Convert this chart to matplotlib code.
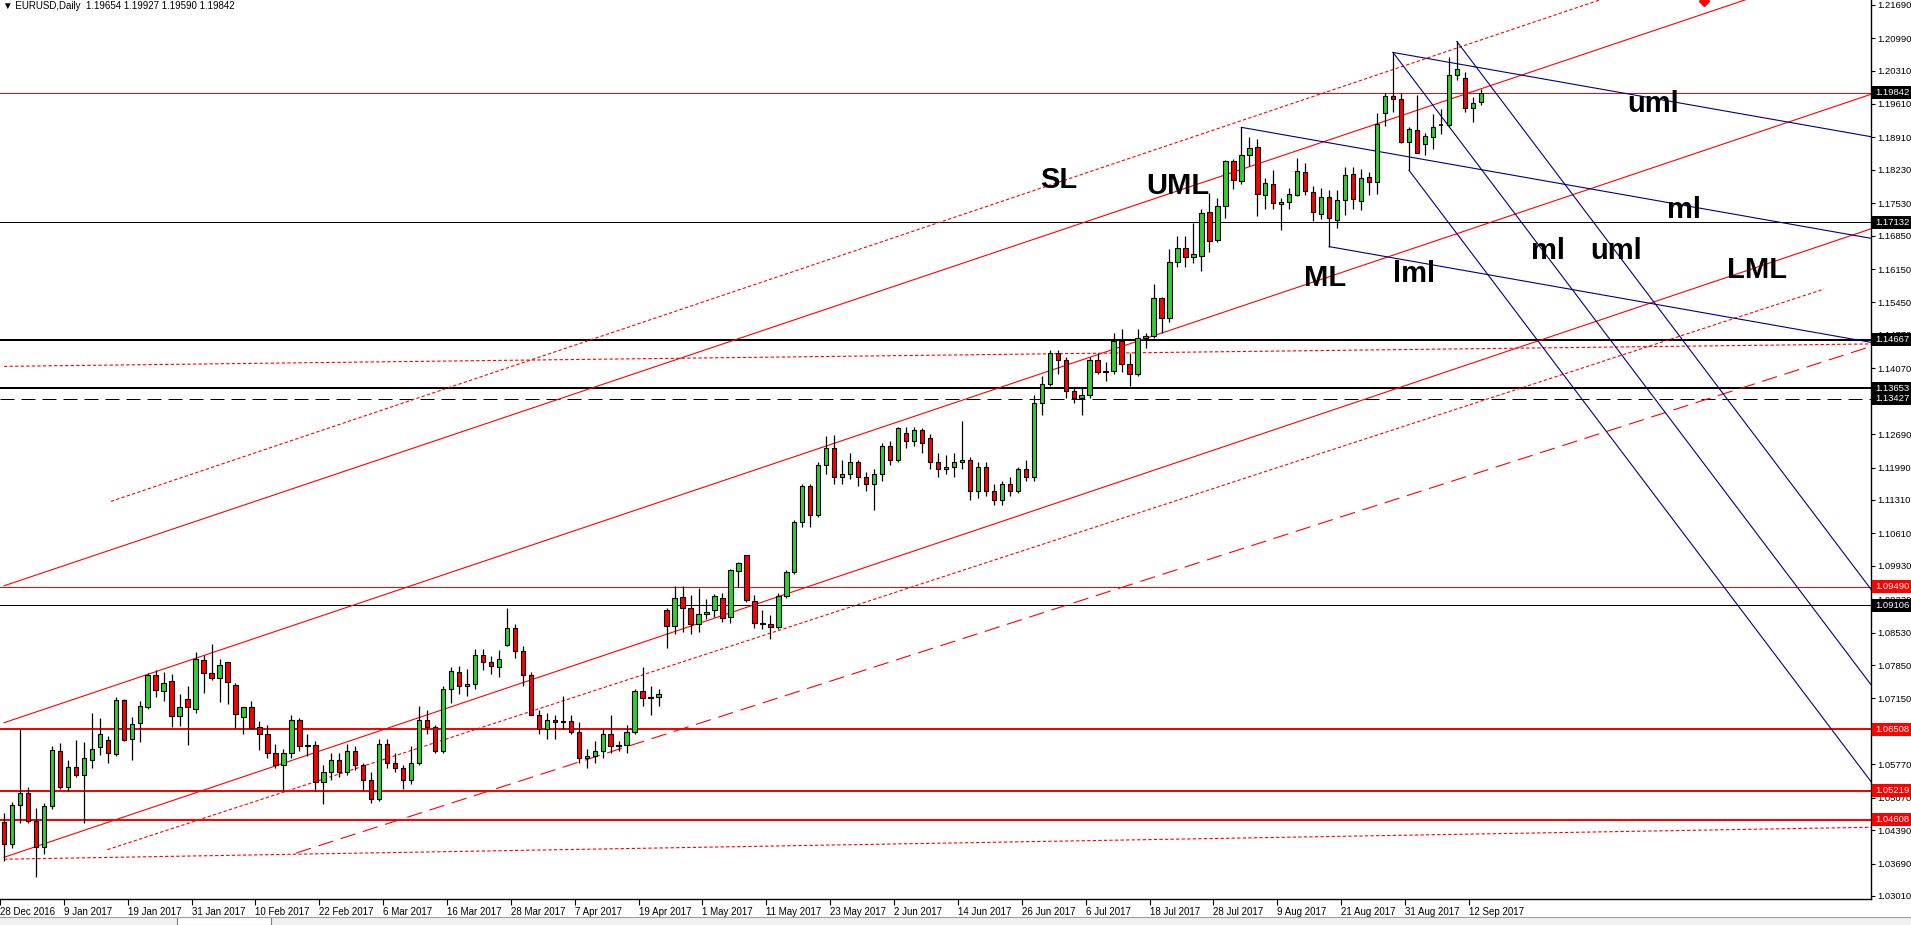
import matplotlib
matplotlib.use("Agg")
import matplotlib.pyplot as plt
import matplotlib.transforms as mtransforms
from matplotlib.patches import Rectangle

# daily EURUSD candles, 28 Dec 2016 .. 13 Sep 2017 (bar index = position)
opens = [1.0456, 1.0410, 1.0491, 1.0517, 1.0459, 1.0404, 1.0489, 1.0605, 1.0530, 1.0572,
         1.0555, 1.0585, 1.0613, 1.0628, 1.0599, 1.0711, 1.0629, 1.0663, 1.0698, 1.0764,
         1.0730, 1.0751, 1.0678, 1.0713, 1.0693, 1.0796, 1.0768, 1.0757, 1.0791, 1.0743,
         1.0677, 1.0696, 1.0656, 1.0640, 1.0600, 1.0575, 1.0600, 1.0670, 1.0615, 1.0618,
         1.0540, 1.0560, 1.0585, 1.0560, 1.0605, 1.0575, 1.0545, 1.0505, 1.0620, 1.0580,
         1.0570, 1.0545, 1.0580, 1.0670, 1.0655, 1.0605, 1.0735, 1.0770, 1.0740, 1.0745,
         1.0806, 1.0792, 1.0780, 1.0827, 1.0862, 1.0815, 1.0765, 1.0680, 1.0650, 1.0670,
         1.0665, 1.0668, 1.0645, 1.0590, 1.0595, 1.0605, 1.0640, 1.0615, 1.0618, 1.0645,
         1.0730, 1.0715, 1.0718, 1.0900, 1.0866, 1.0928, 1.0904, 1.0870, 1.0893, 1.0900,
         1.0926, 1.0885, 1.0983, 1.1015, 1.0920, 1.0874, 1.0870, 1.0865, 1.0930, 1.0980,
         1.1085, 1.1160, 1.1100, 1.1205, 1.1240, 1.1180, 1.1185, 1.1210, 1.1180, 1.1165,
         1.1185, 1.1245, 1.1215, 1.1272, 1.1255, 1.1278, 1.1260, 1.1210, 1.1195, 1.1200,
         1.1210, 1.1215, 1.1150, 1.1200, 1.1150, 1.1130, 1.1165, 1.1150, 1.1195, 1.1180,
         1.1335, 1.1375, 1.1440, 1.1425, 1.1360, 1.1345, 1.1350, 1.1425, 1.1400, 1.1402,
         1.1465, 1.1415, 1.1395, 1.1470, 1.1475, 1.1554, 1.1513, 1.1629, 1.1660, 1.1640,
         1.1642, 1.1734, 1.1675, 1.1748, 1.1842, 1.1800, 1.1853, 1.1870, 1.1771, 1.1793,
         1.1751, 1.1756, 1.1770, 1.1818, 1.1776, 1.1731, 1.1766, 1.1718, 1.1759, 1.1814,
         1.1757, 1.1808, 1.1798, 1.1943, 1.1978, 1.1971, 1.1882, 1.1906, 1.1878, 1.1891,
         1.1917, 1.1916, 1.2022, 1.2015, 1.1952, 1.19654]
highs = [1.0475, 1.0497, 1.0651, 1.0530, 1.0485, 1.0496, 1.0615, 1.0621, 1.0585, 1.0628,
         1.0623, 1.0684, 1.0673, 1.0636, 1.0719, 1.0713, 1.0676, 1.0709, 1.0768, 1.0774,
         1.0771, 1.0766, 1.0724, 1.0741, 1.0813, 1.0805, 1.0829, 1.0797, 1.0791, 1.0747,
         1.0698, 1.0709, 1.0668, 1.0660, 1.0620, 1.0610, 1.0680, 1.0675, 1.0640, 1.0625,
         1.0575, 1.0600, 1.0600, 1.0620, 1.0615, 1.0580, 1.0560, 1.0630, 1.0630, 1.0600,
         1.0575, 1.0615, 1.0700, 1.0690, 1.0660, 1.0740, 1.0780, 1.0783, 1.0777, 1.0819,
         1.0819, 1.0803, 1.0816, 1.0904, 1.0870, 1.0825, 1.0770, 1.0690, 1.0685, 1.0680,
         1.0720, 1.0680, 1.0665, 1.0610, 1.0625, 1.0650, 1.0680, 1.0625, 1.0660, 1.0735,
         1.0780, 1.0740, 1.0735, 1.0904, 1.0950, 1.0950, 1.0931, 1.0946, 1.0923, 1.0933,
         1.0937, 1.0987, 1.1000, 1.1015, 1.0932, 1.0900, 1.0890, 1.0935, 1.0985, 1.1090,
         1.1165, 1.1165, 1.1210, 1.1264, 1.1267, 1.1215, 1.1230, 1.1215, 1.1190, 1.1195,
         1.1250, 1.1255, 1.1284, 1.1283, 1.1284, 1.1282, 1.1270, 1.1230, 1.1225, 1.1230,
         1.1297, 1.1220, 1.1210, 1.1210, 1.1165, 1.1170, 1.1180, 1.1200, 1.1215, 1.1350,
         1.1390, 1.1445, 1.1445, 1.1430, 1.1365, 1.1365, 1.1430, 1.1440, 1.1420, 1.1480,
         1.1490, 1.1440, 1.1490, 1.1480, 1.1584, 1.1556, 1.1657, 1.1684, 1.1684, 1.1712,
         1.1741, 1.1775, 1.1763, 1.1844, 1.1845, 1.1912, 1.1891, 1.1888, 1.1805, 1.1823,
         1.1763, 1.1785, 1.1848, 1.1837, 1.1790, 1.1785, 1.1780, 1.1780, 1.1829, 1.1829,
         1.1825, 1.1819, 1.1942, 1.1983, 1.2069, 1.1983, 1.1913, 1.1980, 1.1901, 1.1940,
         1.1950, 1.2060, 1.2092, 1.2027, 1.1976, 1.19927]
lows = [1.0374, 1.0402, 1.0453, 1.0453, 1.0340, 1.0389, 1.0483, 1.0525, 1.0520, 1.0550,
        1.0453, 1.0570, 1.0596, 1.0580, 1.0595, 1.0626, 1.0586, 1.0624, 1.0693, 1.0718,
        1.0710, 1.0656, 1.0658, 1.0617, 1.0684, 1.0727, 1.0754, 1.0708, 1.0704, 1.0652,
        1.0640, 1.0651, 1.0606, 1.0590, 1.0570, 1.0520, 1.0590, 1.0605, 1.0595, 1.0520,
        1.0494, 1.0545, 1.0550, 1.0555, 1.0565, 1.0520, 1.0495, 1.0500, 1.0570, 1.0560,
        1.0525, 1.0535, 1.0575, 1.0640, 1.0600, 1.0600, 1.0705, 1.0725, 1.0720, 1.0735,
        1.0775, 1.0766, 1.0759, 1.0825, 1.0800, 1.0740, 1.0680, 1.0640, 1.0630, 1.0630,
        1.0650, 1.0640, 1.0580, 1.0570, 1.0580, 1.0590, 1.0600, 1.0605, 1.0600, 1.0640,
        1.0700, 1.0680, 1.0700, 1.0821, 1.0851, 1.0855, 1.0851, 1.0855, 1.0881, 1.0885,
        1.0875, 1.0874, 1.0948, 1.0918, 1.0862, 1.0860, 1.0840, 1.0860, 1.0925, 1.0975,
        1.1075, 1.1075, 1.1095, 1.1185, 1.1165, 1.1165, 1.1175, 1.1160, 1.1150, 1.1110,
        1.1170, 1.1205, 1.1210, 1.1240, 1.1245, 1.1230, 1.1195, 1.1180, 1.1185, 1.1180,
        1.1195, 1.1130, 1.1135, 1.1140, 1.1120, 1.1120, 1.1140, 1.1145, 1.1170, 1.1170,
        1.1310, 1.1370, 1.1395, 1.1345, 1.1335, 1.1310, 1.1345, 1.1395, 1.1380, 1.1395,
        1.1400, 1.1370, 1.1390, 1.1450, 1.1470, 1.1480, 1.1505, 1.1619, 1.1620, 1.1628,
        1.1611, 1.1650, 1.1671, 1.1721, 1.1782, 1.1793, 1.1831, 1.1727, 1.1740, 1.1740,
        1.1697, 1.1740, 1.1769, 1.1770, 1.1715, 1.1720, 1.1662, 1.1700, 1.1729, 1.1740,
        1.1739, 1.1770, 1.1772, 1.1915, 1.1945, 1.1880, 1.1822, 1.1859, 1.1855, 1.1867,
        1.1898, 1.1912, 1.2012, 1.1945, 1.1924, 1.19590]
closes = [1.0410, 1.0491, 1.0517, 1.0459, 1.0404, 1.0489, 1.0607, 1.0530, 1.0572, 1.0555,
          1.0590, 1.0610, 1.0640, 1.0600, 1.0711, 1.0628, 1.0661, 1.0700, 1.0764, 1.0732,
          1.0747, 1.0679, 1.0697, 1.0697, 1.0798, 1.0768, 1.0757, 1.0785, 1.0749, 1.0682,
          1.0698, 1.0654, 1.0640, 1.0600, 1.0575, 1.0600, 1.0670, 1.0615, 1.0618, 1.0540,
          1.0560, 1.0585, 1.0560, 1.0605, 1.0575, 1.0545, 1.0505, 1.0620, 1.0580, 1.0570,
          1.0545, 1.0580, 1.0670, 1.0655, 1.0605, 1.0735, 1.0772, 1.0740, 1.0745, 1.0806,
          1.0792, 1.0782, 1.0798, 1.0862, 1.0815, 1.0765, 1.0680, 1.0650, 1.0670, 1.0665,
          1.0668, 1.0645, 1.0590, 1.0595, 1.0605, 1.0640, 1.0615, 1.0618, 1.0645, 1.0730,
          1.0715, 1.0718, 1.0725, 1.0866, 1.0925, 1.0904, 1.0870, 1.0893, 1.0897, 1.0930,
          1.0883, 1.0984, 1.0998, 1.0921, 1.0874, 1.0870, 1.0865, 1.0930, 1.0980, 1.1085,
          1.1160, 1.1100, 1.1205, 1.1240, 1.1180, 1.1185, 1.1210, 1.1180, 1.1165, 1.1185,
          1.1245, 1.1215, 1.1281, 1.1255, 1.1278, 1.1250, 1.1210, 1.1195, 1.1200, 1.1210,
          1.1215, 1.1150, 1.1200, 1.1150, 1.1130, 1.1165, 1.1150, 1.1195, 1.1180, 1.1335,
          1.1375, 1.1440, 1.1425, 1.1360, 1.1345, 1.1350, 1.1425, 1.1400, 1.1402, 1.1465,
          1.1415, 1.1395, 1.1470, 1.1475, 1.1554, 1.1512, 1.1629, 1.1660, 1.1641, 1.1646,
          1.1732, 1.1673, 1.1747, 1.1842, 1.1801, 1.1855, 1.1868, 1.1772, 1.1795, 1.1753,
          1.1756, 1.1772, 1.1820, 1.1778, 1.1734, 1.1766, 1.1723, 1.1760, 1.1813, 1.1761,
          1.1805, 1.1797, 1.1920, 1.1978, 1.1971, 1.1882, 1.1908, 1.1859, 1.1893, 1.1912,
          1.1918, 1.2022, 1.2034, 1.1952, 1.1964, 1.19842]

date_labels = ["28 Dec 2016", "9 Jan 2017", "19 Jan 2017", "31 Jan 2017", "10 Feb 2017",
               "22 Feb 2017", "6 Mar 2017", "16 Mar 2017", "28 Mar 2017", "7 Apr 2017",
               "19 Apr 2017", "1 May 2017", "11 May 2017", "23 May 2017", "2 Jun 2017",
               "14 Jun 2017", "26 Jun 2017", "6 Jul 2017", "18 Jul 2017", "28 Jul 2017",
               "9 Aug 2017", "21 Aug 2017", "31 Aug 2017", "12 Sep 2017"]
price_ticks = [1.21690, 1.20990, 1.20310, 1.19610, 1.18910, 1.18230, 1.17530, 1.16850,
               1.16150, 1.15450, 1.14770, 1.14070, 1.13370, 1.12690, 1.11990, 1.11310,
               1.10610, 1.09930, 1.09230, 1.08530, 1.07850, 1.07150, 1.06470, 1.05770,
               1.05070, 1.04390, 1.03690, 1.03010]

# horizontal levels
h_prices = [1.19842, 1.17132, 1.14667, 1.13653, 1.13427, 1.09490, 1.09106, 1.06508, 1.05219, 1.04608]
h_colors = ["red", "black", "black", "black", "black", "red", "black", "red", "red", "red"]
h_box = ["black", "black", "black", "black", "black", "red", "black", "red", "red", "red"]
h_widths = [1, 1, 2, 2, 1, 1, 1, 2, 2, 2]
h_dashed = [False, False, False, False, True, False, False, False, False, False]

# trend lines: (bar1, price1, bar2, price2), colour, style
trend_lines = [
    ((13.4, 1.1128, 155, 1.1926), "red", "dot"),      # SL
    ((0, 1.0951, 260, 1.2415), "red", "solid"),       # UML
    ((0, 1.0664, 234, 1.1982), "red", "solid"),       # ML
    ((0, 1.0382, 234, 1.1700), "red", "solid"),       # LML
    ((12.95, 1.0398, 228, 1.1573), "red", "dot"),
    ((36.6, 1.0391, 233.9, 1.1453), "red", "dash"),
    ((0, 1.1411, 233.9, 1.1458), "red", "dot"),
    ((0, 1.0378, 233.9, 1.0445), "red", "dot"),
    ((174, 1.2069, 234, 1.1892), "navy", "solid"),
    ((155, 1.1912, 234, 1.1679), "navy", "solid"),
    ((166, 1.1662, 234, 1.1461), "navy", "solid"),
    ((174, 1.2069, 234, 1.0741), "navy", "solid"),
    ((182, 1.2092, 234, 1.0941), "navy", "solid"),
    ((176, 1.1822, 234, 1.0538), "navy", "solid"),
]

labels_txt = ["SL", "UML", "ML", "lml", "ml", "uml", "uml", "ml", "LML"]
labels_bar = [132.1, 147.1, 165.5, 176.6, 193.4, 202.0, 206.6, 210.4, 219.6]
labels_px = [1.18016, 1.17880, 1.15962, 1.16046, 1.16528, 1.16528, 1.19609, 1.17387, 1.16130]

fig = plt.figure(figsize=(19.11, 9.25), dpi=100)
ax = fig.add_axes([0, 26 / 925, 1871 / 1911, 899 / 925])
ax.set_xlim(0, 233.875)
ax.set_ylim(1.02946, 1.21789)

for p, c, w, d in zip(h_prices, h_colors, h_widths, h_dashed):
    ax.axhline(p, color=c, lw=w * 0.72, ls=(0, (14, 7)) if d else "-", zorder=1)

styles = {"solid": "-", "dot": (0, (3, 2)), "dash": (0, (14, 7))}
for (b1, p1, b2, p2), c, st in trend_lines:
    if st == "dot" and b2 < 200:
        # SL is a ray, run it on to the right edge
        k = (p2 - p1) / (b2 - b1)
        b2, p2 = 234, p1 + k * (234 - b1)
    ax.plot([b1, b2], [p1, p2], color=c, lw=0.8, ls=styles[st], zorder=1)

# small red arrow object cut by the top edge
ax.plot([213], [1.2176], marker="D", color="red", ms=5, clip_on=True, zorder=2)

# candles
xs = list(range(len(opens)))
ax.vlines(xs, lows, highs, color="black", lw=0.9, zorder=3)
for i, o, c in zip(xs, opens, closes):
    col = "#32CD32" if c >= o else "#FF0000"
    h = abs(c - o)
    if h < 0.00015:
        ax.hlines((o + c) / 2, i - 0.3, i + 0.3, color="black", lw=1.2, zorder=4)
    else:
        ax.bar(i, h, bottom=min(o, c), width=0.55, color=col, edgecolor="black",
               linewidth=0.8, zorder=4)

for t, b, p in zip(labels_txt, labels_bar, labels_px):
    ax.text(b, p, t, fontsize=21, fontweight="bold", family="Liberation Sans",
            ha="center", va="center", zorder=5)

for s in ["top", "left"]:
    ax.spines[s].set_visible(False)
ax.spines["right"].set_linewidth(1)
ax.spines["bottom"].set_linewidth(1)
ax.yaxis.tick_right()
ax.set_yticks(price_ticks)
ax.set_yticklabels(["%.5f" % v for v in price_ticks], family="Liberation Sans", fontsize=6.8)
ax.tick_params(axis="y", length=3, width=0.8, pad=1.5)
ax.set_xticks([b - 0.5 for b in range(0, 185, 8)])
ax.set_xticklabels(date_labels, family="Liberation Sans", fontsize=7, ha="left")
ax.tick_params(axis="x", length=4, width=0.8, pad=2)

# value boxes on the price scale
trans = mtransforms.blended_transform_factory(ax.transAxes, ax.transData)
box_w = 40 / 1871
box_h = 13 / 4771
for p, c in zip(h_prices, h_box):
    ax.add_patch(Rectangle((1.0005, p - box_h / 2), box_w, box_h, transform=trans,
                           fc=c, ec="none", clip_on=False, zorder=6))
    ax.text(1.0025, p, "%.5f" % p, transform=trans, fontsize=6.8, family="Liberation Sans",
            color="white", ha="left", va="center", clip_on=False, zorder=7)

fig.text(0.0015, 0.9985, "\u25bc EURUSD,Daily  1.19654 1.19927 1.19590 1.19842",
         family=["Liberation Sans", "DejaVu Sans"], fontsize=7, va="top", ha="left")

# tab strip under the chart
fig.add_artist(Rectangle((0, 0), 1, 8 / 925, transform=fig.transFigure, fc="#f0f0f0",
                         ec="none", zorder=0))
fig.add_artist(plt.Line2D([0, 1], [8 / 925, 8 / 925], transform=fig.transFigure,
                          color="#a0a0a0", lw=0.8))
fig.add_artist(Rectangle((177 / 1911, 0), 94 / 1911, 8 / 925, transform=fig.transFigure,
                         fc="white", ec="#808080", lw=0.8))

fig.savefig("out.png", dpi=100, facecolor="white")
